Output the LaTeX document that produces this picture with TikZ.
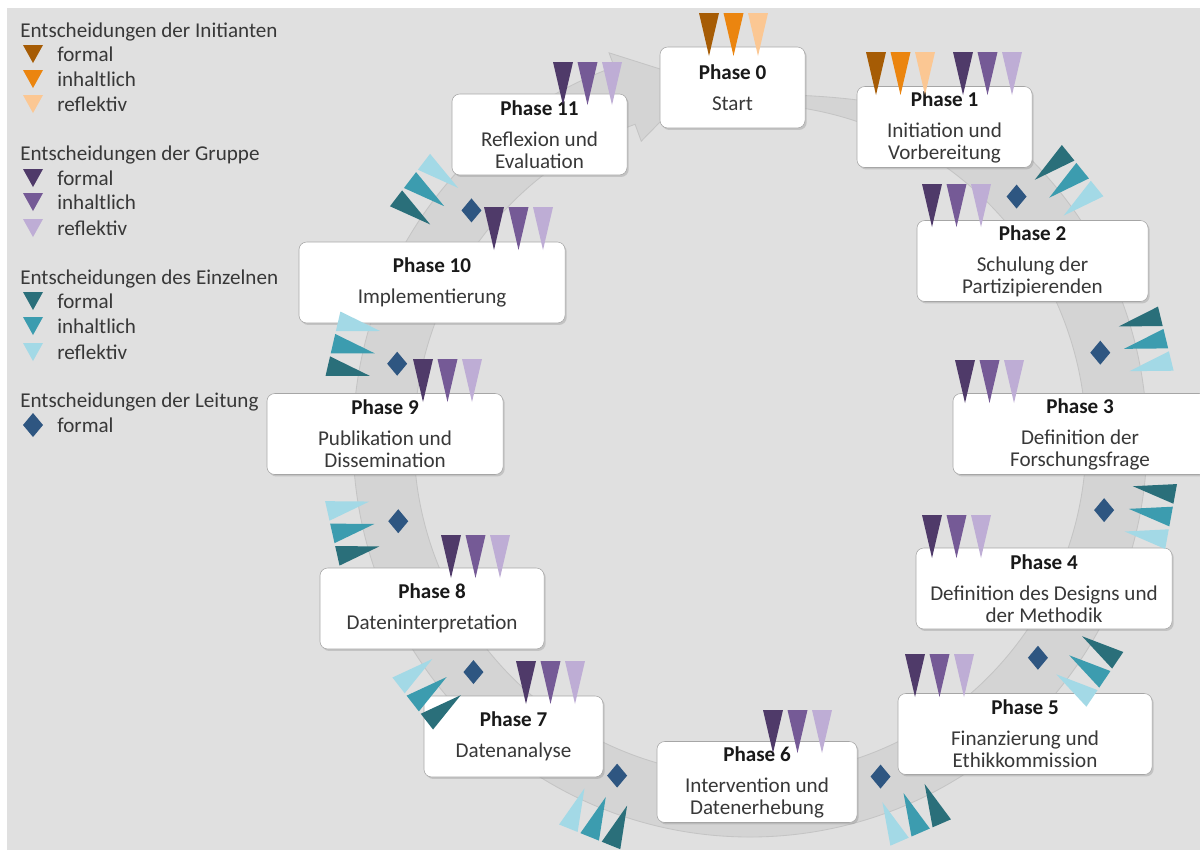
\documentclass[tikz,border=0pt]{standalone}
\usepackage{fontspec}
\setmainfont{Carlito}
\usetikzlibrary{calc, shadows}
\definecolor{mBack}{HTML}{E0E0E0}
\definecolor{mBand}{HTML}{D4D4D4}
\definecolor{mBandEdge}{HTML}{C4C4C4}
\definecolor{mText}{HTML}{383838}
\definecolor{mIniFormal}{HTML}{A65C05}
\definecolor{mIniInhalt}{HTML}{EB850F}
\definecolor{mIniReflex}{HTML}{FBC793}
\definecolor{mGrpFormal}{HTML}{4F3A69}
\definecolor{mGrpInhalt}{HTML}{755A96}
\definecolor{mGrpReflex}{HTML}{BEADD5}
\definecolor{mEinFormal}{HTML}{2A6F7A}
\definecolor{mEinInhalt}{HTML}{3C9CAF}
\definecolor{mEinReflex}{HTML}{A3D9E6}
\definecolor{mLeitung}{HTML}{2E5681}

% one downward flag: x, top y, colour
\newcommand{\decflag}[3]{\fill[#3] (#1-10,#2) -- (#1+10,#2) -- (#1,#2+43) -- cycle;}
% three flags of one group: x of first, top y, colour prefix
\newcommand{\decflags}[3]{\decflag{#1}{#2}{#3Formal}\decflag{#1+24.5}{#2}{#3Inhalt}\decflag{#1+49}{#2}{#3Reflex}}
% flags of the single person (pointing inward) and the lead diamond
\newcommand{\decray}[2]{%
  \begin{scope}[shift={(750,440)}, rotate={0-(#1)}]
    \fill[mEinFormal] (428,-33) -- (428,-13) -- (385,-23) -- cycle;
    \fill[mEinInhalt] (428,-10) -- (428,10) -- (385,0) -- cycle;
    \fill[mEinReflex] (428,13) -- (428,33) -- (385,23) -- cycle;
  \end{scope}
  \fill[mLeitung] ($(750,440)+(#2:361)$) ++(0,-12) -- ++(10,12) -- ++(-10,12) -- ++(-10,-12) -- cycle;}
\newcommand{\phtitle}[1]{\textcolor{black!90}{\bfseries #1}}

\begin{document}
\begin{tikzpicture}[
  x=0.025cm, y=-0.025cm,
  every node/.style={font=\fontsize{15}{15.6}\selectfont, align=center},
  phase/.style={
    fill=white,
    draw=black!35,
    line width=0.4pt,
    rounded corners=5.5pt,
    minimum height=2.025cm,
    inner sep=0pt,
    text=mText,
    execute at begin node={\rule{0pt}{13.5pt}},
    drop shadow={shadow xshift=1.2pt, shadow yshift=-1.4pt, opacity=0.3}
  },
  legend/.style={anchor=west, inner sep=0pt, text=mText},
  band/.style={fill=mBand, draw=mBandEdge, line width=0.6pt}
]
\useasboundingbox (0,0) rectangle (1200,850);
\fill[white] (0,0) rectangle (1200,850);
\fill[mBack] (7,8) rectangle (1200,850);

% legend
\node[legend] (hIni) at (20,31.5) {Entscheidungen der Initianten};
\node[legend] (hGrp) at (20,154.5) {Entscheidungen der Gruppe};
\node[legend] (hEin) at (20,278.5) {Entscheidungen des Einzelnen};
\node[legend] (hLei) at (20,401.5) {Entscheidungen der Leitung};
\foreach \y/\t/\c in {54/formal/mIniFormal, 79/inhaltlich/mIniInhalt, 104/reflektiv/mIniReflex,
    178/formal/mGrpFormal, 202/inhaltlich/mGrpInhalt, 228/reflektiv/mGrpReflex,
    301/formal/mEinFormal, 326/inhaltlich/mEinInhalt, 352/reflektiv/mEinReflex}{
  \fill[\c] (23,\y-9) -- (43,\y-9) -- (33,\y+9) -- cycle;
  \node[legend] (item\y) at (57,\y) {\t};
}
\fill[mLeitung] (33,413) -- (43,425) -- (33,437) -- (23,425) -- cycle;
\node[legend] (item425) at (57,425) {formal};

% circular arrow
\coordinate (C) at (750,440);
\filldraw[band] ($(C)+(-86:336)$) -- ($(C)+(-86:346)$)
  .. controls ($(C)+(-68:372)$) and ($(C)+(-53:397)$) .. ($(C)+(-45:397)$)
  arc[start angle=-45, end angle=250, radius=397]
  -- ($(C)+(250:412)$) -- ($(C)+(262:362)$) -- ($(C)+(250:318)$) -- ($(C)+(250:336)$)
  arc[start angle=250, end angle=-86, radius=336] -- cycle;

% phases
\node[phase, minimum width=3.625cm] (p0) at (732.5,87.5) {\phtitle{Phase 0}\\[6.4pt]Start};
\node[phase, minimum width=4.375cm] (p1) at (944.5,127) {\phtitle{Phase 1}\\[6.4pt]Initiation und\\Vorbereitung};
\node[phase, minimum width=5.775cm] (p2) at (1032.5,261) {\phtitle{Phase 2}\\[6.4pt]Schulung der\\Partizipierenden};
\node[phase, minimum width=6.35cm] (p3) at (1080,434) {\phtitle{Phase 3}\\[6.4pt]Definition der\\Forschungsfrage};
\node[phase, minimum width=6.4cm] (p4) at (1044,588.5) {\phtitle{Phase 4}\\[6.4pt]Definition des Designs und\\der Methodik};
\node[phase, minimum width=6.35cm] (p5) at (1025,734) {\phtitle{Phase 5}\\[6.4pt]Finanzierung und\\Ethikkommission};
\node[phase, minimum width=5cm] (p6) at (757,782) {\phtitle{Phase 6}\\[6.4pt]Intervention und\\Datenerhebung};
\node[phase, minimum width=4.475cm] (p7) at (513.5,736.5) {\phtitle{Phase 7}\\[6.4pt]Datenanalyse};
\node[phase, minimum width=5.6cm] (p8) at (432,608.5) {\phtitle{Phase 8}\\[6.4pt]Dateninterpretation};
\node[phase, minimum width=5.9cm] (p9) at (385,434) {\phtitle{Phase 9}\\[6.4pt]Publikation und\\Dissemination};
\node[phase, minimum width=6.65cm] (p10) at (432,282.5) {\phtitle{Phase 10}\\[6.4pt]Implementierung};
\node[phase, minimum width=4.375cm] (p11) at (539.5,134.5) {\phtitle{Phase 11}\\[6.4pt]Reflexion und\\Evaluation};

% single person and lead between the phases
\decray{-39}{-42.4}
\decray{-13.7}{-14}
\decray{10.3}{11.2}
\decray{34}{37.1}
\decray{66.5}{68.8}
\decray{112}{111.6}
\decray{142}{140}
\decray{167.4}{167}
\decray{193}{192.2}
\decray{217.4}{219.5}

% initiators and group
\decflags{709}{13}{mIni}
\decflags{876}{52}{mIni}
\decflags{963}{52}{mGrp}
\decflags{932}{184}{mGrp}
\decflags{965}{360}{mGrp}
\decflags{932}{515}{mGrp}
\decflags{915}{654}{mGrp}
\decflags{773}{710}{mGrp}
\decflags{526}{661}{mGrp}
\decflags{451}{535}{mGrp}
\decflags{423}{359}{mGrp}
\decflags{494}{207}{mGrp}
\decflags{563}{62}{mGrp}

\end{tikzpicture}
\end{document}
